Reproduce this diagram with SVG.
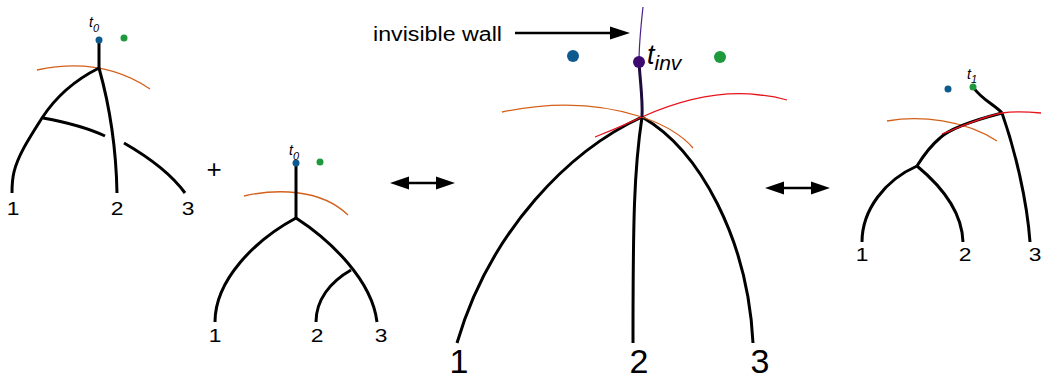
<svg xmlns="http://www.w3.org/2000/svg" width="1041" height="381" viewBox="0 0 1041 381">
<style>
.br{fill:none;stroke:#000;stroke-width:3;stroke-linecap:butt}
.or{fill:none;stroke:#d4601a;stroke-width:1.3}
.rd{fill:none;stroke:#e8141c;stroke-width:1.3}
.blue{fill:#0d5a8f}
.green{fill:#1e9a3c}
.lab{font-family:"Liberation Sans",Arial,sans-serif;fill:#000;text-anchor:middle}
.it{font-family:"Liberation Sans",Arial,sans-serif;font-style:italic;fill:#000}
.arr{stroke:#000;stroke-width:2.5;fill:none}
</style>
<rect width="1041" height="381" fill="#fff"/>
<g id="panel1">
<path class="or" d="M37,70 C70,63 110,62 150,89"/>
<path class="br" d="M99,40 L99,68"/>
<path class="br" d="M99,68 C75,80 55,98 42,118 C30,137 18,155 14,172 C12,180 12,188 12,193"/>
<path class="br" d="M43,118 C65,122 88,128 105,136"/>
<path class="br" d="M99,68 C108,100 116,140 117,193"/>
<path class="br" d="M124,143 C150,158 172,175 185,193"/>
<circle class="blue" cx="99" cy="40" r="3.5"/>
<circle class="green" cx="124" cy="38" r="3.5"/>
<text class="it" x="89" y="27" font-size="14">t<tspan font-size="11" dy="5">0</tspan></text>
<text class="lab" font-size="19" transform="translate(13,215) scale(1.2,1)">1</text>
<text class="lab" font-size="19" transform="translate(117,215) scale(1.2,1)">2</text>
<text class="lab" font-size="19" transform="translate(188,215) scale(1.2,1)">3</text>
</g>
<text id="plus" class="lab" font-size="26" x="214" y="178">+</text>
<g id="panel2">
<path class="or" d="M244,196 C275,189 320,188 348,215"/>
<path class="br" d="M296,163 L296,218"/>
<path class="br" d="M296,218 C255,240 215,280 215,322"/>
<path class="br" d="M296,218 C330,240 372,280 377,322"/>
<path class="br" d="M351,270 C330,282 316,300 316,322"/>
<circle class="blue" cx="296" cy="163" r="3.5"/>
<circle class="green" cx="320" cy="162" r="3.5"/>
<text class="it" x="289" y="155" font-size="14">t<tspan font-size="11" dy="5">0</tspan></text>
<text class="lab" font-size="19" transform="translate(215,342) scale(1.2,1)">1</text>
<text class="lab" font-size="19" transform="translate(317,342) scale(1.2,1)">2</text>
<text class="lab" font-size="19" transform="translate(381,342) scale(1.2,1)">3</text>
</g>
<g id="connectors">
<path class="arr" d="M405,183 L440,183"/>
<polygon points="390,183 409,176.5 409,189.5" fill="#000"/>
<polygon points="455,183 436,176.5 436,189.5" fill="#000"/>
<path class="arr" d="M780,188 L815,188"/>
<polygon points="765,188 784,181.5 784,194.5" fill="#000"/>
<polygon points="830,188 811,181.5 811,194.5" fill="#000"/>
<path class="arr" d="M515,33 L612,33"/>
<polygon points="630,33 610,26.5 610,39.5" fill="#000"/>
</g>
<text id="wall-label" font-family="Liberation Sans, Arial, sans-serif" font-size="20" x="373" y="41" textLength="129" lengthAdjust="spacingAndGlyphs">invisible wall</text>
<g id="panel3">
<path class="br" d="M642,117 C570,150 490,230 457,343"/>
<path class="br" d="M642,117 C634,170 633,220 633,343"/>
<path class="br" d="M642,117 C700,150 748,240 753,343"/>
<path class="or" d="M502,112 C540,104 590,100 642,117 C665,125 682,135 693,148"/>
<path class="rd" d="M595,137 C620,127 635,120 642,117 C680,100 720,90 760,95 C772,96 780,98 787,100"/>
<path fill="none" stroke="#4a1f8a" stroke-width="1.2" d="M643,7 C641,25 639,45 639,62"/>
<path fill="none" stroke="#1e0a3c" stroke-width="3" d="M639,62 C640,80 643,100 642,117"/>
<circle class="blue" cx="573" cy="56" r="6"/>
<circle class="green" cx="720" cy="57" r="6"/>
<circle cx="639" cy="62" r="6" fill="#3c0a6e"/>
<text class="it" x="647" y="64" font-size="27">t<tspan font-size="21" dy="6">inv</tspan></text>
<text class="lab" font-size="34" x="459" y="373">1</text>
<text class="lab" font-size="34" x="639" y="373">2</text>
<text class="lab" font-size="34" x="760" y="373">3</text>
</g>
<g id="panel4">
<path class="or" d="M887,121 C920,115 965,120 997,141"/>
<path class="br" d="M973,87 C982,100 995,105 1002,113"/>
<path class="br" d="M1002,113 C1015,150 1027,200 1030,242"/>
<path class="br" d="M1002,113 C975,120 950,128 940,138 C928,148 922,158 917,166"/>
<path class="br" d="M917,166 C885,180 862,210 862,242"/>
<path class="br" d="M917,166 C940,185 962,210 963,242"/>
<path class="rd" d="M942,134 C965,125 985,116 1002,113 C1015,111 1030,112 1041,113"/>
<circle class="blue" cx="948" cy="89" r="3.5"/>
<circle class="green" cx="973" cy="87" r="3.5"/>
<text class="it" x="967" y="79" font-size="14">t<tspan font-size="11" dy="4">1</tspan></text>
<text class="lab" font-size="19" transform="translate(862,261) scale(1.2,1)">1</text>
<text class="lab" font-size="19" transform="translate(965,261) scale(1.2,1)">2</text>
<text class="lab" font-size="19" transform="translate(1035,261) scale(1.2,1)">3</text>
</g>
</svg>
